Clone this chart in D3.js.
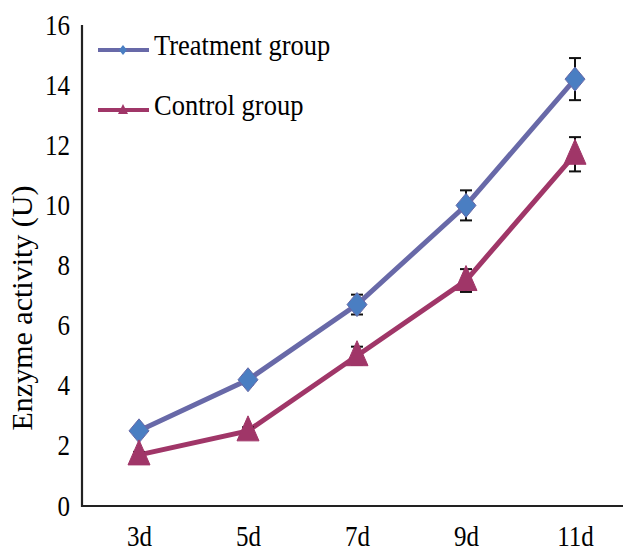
<!DOCTYPE html>
<html>
<head>
<meta charset="utf-8">
<script src="https://cdn.jsdelivr.net/npm/d3@7"></script>
<style>
  body { margin: 0; background: #fff; }
  svg text { font-family: "Liberation Serif", "Times New Roman", serif; fill: #000; }
</style>
</head>
<body>
<script>
var days = ["3d", "5d", "7d", "9d", "11d"];
var treatment = [2.5, 4.2, 6.7, 10.0, 14.2];
var treatmentErr = [0.12, 0.15, 0.33, 0.5, 0.7];
var control = [1.7, 2.5, 5.0, 7.5, 11.7];
var controlErr = [0.1, 0.12, 0.3, 0.38, 0.57];
var yTicks = [0, 2, 4, 6, 8, 10, 12, 14, 16];

var w = 623, h = 554;
var margin = {top: 25, right: 0, bottom: 48, left: 82};
var width = w - margin.left - margin.right;
var height = h - margin.top - margin.bottom;
var stretch = 1.2; // glyphs in the source are drawn taller than wide

var svg = d3.select("body").append("svg")
  .attr("width", w)
  .attr("height", h);

var chart = svg.append("g")
  .attr("transform", "translate(" + margin.left + "," + margin.top + ")");

// categories spaced ~109px apart, first one 57px right of the y axis
var x = d3.scalePoint().domain(days).range([57, 57 + 109 * 4]);
var y = d3.scaleLinear().domain([0, 16]).range([height, 0]);

// axes
var yAxis = chart.append("g")
  .call(d3.axisLeft(y).tickValues(yTicks).tickSize(0).tickPadding(12));
yAxis.select(".domain").remove();
yAxis.selectAll("text")
  .style("font-size", "25px")
  .attr("dy", "0.3em")
  .attr("transform", "scale(1," + stretch + ")");

var xAxis = chart.append("g")
  .attr("transform", "translate(0," + height + ")")
  .call(d3.axisBottom(x).tickSize(0));
xAxis.select(".domain").remove();
xAxis.selectAll("text")
  .style("font-size", "25px")
  .attr("y", 33.5)
  .attr("dy", 0)
  .attr("transform", "scale(1," + stretch + ")");

chart.append("path")
  .attr("d", "M0,0V" + height + "H" + width)
  .attr("fill", "none")
  .attr("stroke", "#222")
  .attr("stroke-width", 2.2);

svg.append("text")
  .attr("transform", "translate(32,308) rotate(-90)")
  .style("text-anchor", "middle")
  .style("font-size", "30px")
  .text("Enzyme activity (U)");

var diamond = "M0,-12L10,0L0,12L-10,0Z";
var triangle = "M0,-15L11,10L-11,10Z";

var series = [
  {name: "Treatment group", values: treatment, err: treatmentErr, line: "#6869a8", fill: "#4a7ec2", shape: diamond,
   small: "M0,-5L4,0L0,5L-4,0Z"},
  {name: "Control group", values: control, err: controlErr, line: "#a03668", fill: "#a03668", shape: triangle,
   small: "M0,-6L5,4L-5,4Z"}
];

var line = d3.line()
  .x(function(d, i) { return x(days[i]); })
  .y(function(d) { return y(d); });

series.forEach(function(s) {
  chart.append("path")
    .datum(s.values)
    .attr("fill", "none")
    .attr("stroke", s.line)
    .attr("stroke-width", 5)
    .attr("d", line);

  // error bars
  var eb = chart.append("g").selectAll("g")
    .data(s.values)
    .enter().append("g")
    .attr("stroke", "#111")
    .attr("stroke-width", 2);
  eb.append("line")
    .attr("x1", function(d, i) { return x(days[i]); })
    .attr("x2", function(d, i) { return x(days[i]); })
    .attr("y1", function(d, i) { return y(d + s.err[i]); })
    .attr("y2", function(d, i) { return y(d - s.err[i]); });
  [1, -1].forEach(function(sign) {
    eb.append("line")
      .attr("x1", function(d, i) { return x(days[i]) - 6; })
      .attr("x2", function(d, i) { return x(days[i]) + 6; })
      .attr("y1", function(d, i) { return y(d + sign * s.err[i]); })
      .attr("y2", function(d, i) { return y(d + sign * s.err[i]); });
  });

  chart.append("g").selectAll("path")
    .data(s.values)
    .enter().append("path")
    .attr("d", s.shape)
    .attr("transform", function(d, i) {
      return "translate(" + x(days[i]) + "," + y(d) + ")";
    })
    .attr("fill", s.fill)
    .attr("stroke", s.line)
    .attr("stroke-width", 1);
});

// legend
var legend = svg.append("g");
series.forEach(function(s, i) {
  var ly = 50 + i * 60;
  legend.append("line")
    .attr("x1", 98).attr("x2", 149)
    .attr("y1", ly).attr("y2", ly)
    .attr("stroke", s.line)
    .attr("stroke-width", 4);
  legend.append("path")
    .attr("d", s.small)
    .attr("transform", "translate(123," + ly + ")")
    .attr("fill", s.fill);
  legend.append("g")
    .attr("transform", "translate(154," + (ly + 5) + ")")
    .append("text")
    .attr("transform", "scale(1,1.15)")
    .style("font-size", "26.5px")
    .text(s.name);
});
</script>
</body>
</html>
